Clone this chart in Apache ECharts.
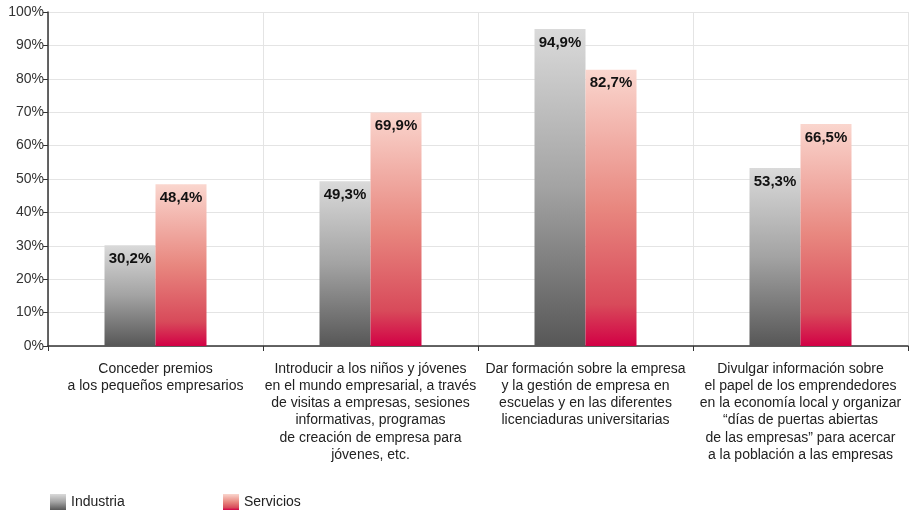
<!DOCTYPE html>
<html>
<head>
<meta charset="utf-8">
<script src="https://cdn.jsdelivr.net/npm/echarts@6/dist/echarts.min.js"></script>
<style>
  html, body { margin: 0; padding: 0; background: #ffffff; }
  #chart { width: 909px; height: 513px; }
</style>
</head>
<body>
<div id="chart"></div>
<script>
// Measures to support entrepreneurship, share of companies by sector
const categories = [
  'Conceder premios\na los pequeños empresarios',
  'Introducir a los niños y jóvenes\nen el mundo empresarial, a través\nde visitas a empresas, sesiones\ninformativas, programas\nde creación de empresa para\njóvenes, etc.',
  'Dar formación sobre la empresa\ny la gestión de empresa en\nescuelas y en las diferentes\nlicenciaduras universitarias',
  'Divulgar información sobre\nel papel de los emprendedores\nen la economía local y organizar\n“días de puertas abiertas\nde las empresas” para acercar\na la población a las empresas'
];
const seriesNames = ['Industria', 'Servicios'];
const industria = [30.2, 49.3, 94.9, 53.3];
const servicios = [48.4, 69.9, 82.7, 66.5];
const yTicks = [0, 10, 20, 30, 40, 50, 60, 70, 80, 90, 100];

const grayFill = new echarts.graphic.LinearGradient(0, 0, 0, 1, [
  { offset: 0, color: '#dadada' },
  { offset: 0.5, color: '#a3a3a3' },
  { offset: 1, color: '#575757' }
]);
const redFill = new echarts.graphic.LinearGradient(0, 0, 0, 1, [
  { offset: 0, color: '#fad6ce' },
  { offset: 0.5, color: '#e8877f' },
  { offset: 0.85, color: '#d84a5a' },
  { offset: 1, color: '#d20045' }
]);

const valueLabel = {
  show: true,
  position: 'insideTop',
  distance: 6,
  fontFamily: '"Liberation Sans", Arial, sans-serif',
  fontWeight: 'bold',
  fontSize: 15,
  color: '#111111',
  formatter: p => p.value.toFixed(1).replace('.', ',') + '%'
};

const legendText = {
  fontFamily: '"Liberation Sans", Arial, sans-serif',
  fontSize: 14,
  color: '#222222'
};

const chart = echarts.init(document.getElementById('chart'));
chart.setOption({
  animation: false,
  backgroundColor: '#ffffff',
  grid: { left: 48, right: 1, top: 12, bottom: 167, containLabel: false },
  legend: [
    {
      data: [seriesNames[0]], left: 50, top: 494, padding: 0,
      itemWidth: 16, itemHeight: 16, itemGap: 6,
      icon: 'rect', textStyle: legendText
    },
    {
      data: [seriesNames[1]], left: 223, top: 494, padding: 0,
      itemWidth: 16, itemHeight: 16, itemGap: 6,
      icon: 'rect', textStyle: legendText
    }
  ],
  xAxis: {
    type: 'category',
    data: categories,
    boundaryGap: true,
    axisLine: { lineStyle: { color: '#333333', width: 1.5 } },
    axisTick: { show: true, length: 5, interval: 0, lineStyle: { color: '#333333' } },
    splitLine: { show: true, interval: 0, lineStyle: { color: '#e4e4e4', width: 1 } },
    axisLabel: {
      interval: 0,
      margin: 14,
      fontFamily: '"Liberation Sans", Arial, sans-serif',
      fontSize: 14,
      lineHeight: 17.3,
      color: '#222222',
      align: 'center'
    }
  },
  yAxis: {
    type: 'value',
    min: yTicks[0],
    max: yTicks[yTicks.length - 1],
    interval: yTicks[1] - yTicks[0],
    axisLine: { show: true, lineStyle: { color: '#333333', width: 1.5 } },
    axisTick: { show: true, length: 5, lineStyle: { color: '#333333' } },
    splitLine: { show: true, lineStyle: { color: '#e4e4e4', width: 1 } },
    axisLabel: {
      margin: 4,
      fontFamily: '"Liberation Sans", Arial, sans-serif',
      fontSize: 14,
      color: '#333333',
      formatter: '{value}%'
    }
  },
  series: [
    {
      name: seriesNames[0],
      type: 'bar',
      data: industria,
      barWidth: 51,
      barGap: '0%',
      itemStyle: { color: grayFill },
      label: valueLabel
    },
    {
      name: seriesNames[1],
      type: 'bar',
      data: servicios,
      barWidth: 51,
      barGap: '0%',
      itemStyle: { color: redFill },
      label: valueLabel
    }
  ]
});
</script>
</body>
</html>
